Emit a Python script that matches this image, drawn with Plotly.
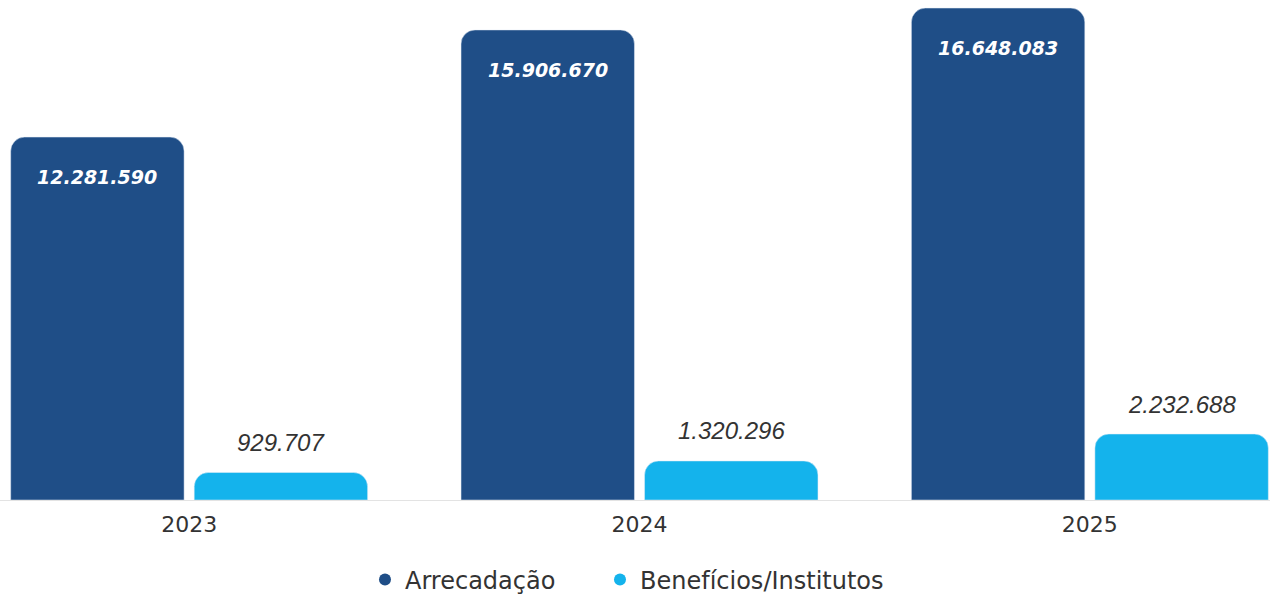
import plotly.graph_objects as go

years = ["2023", "2024", "2025"]
arrecadacao = [12281590, 15906670, 16648083]
beneficios = [929707, 1320296, 2232688]
series_names = ["Arrecadação", "Benefícios/Institutos"]
colors = ["#1F4E87", "#14B3EC"]

fig = go.Figure()
fig.add_trace(go.Bar(x=years, y=arrecadacao, name=series_names[0], marker_color=colors[0],
                     showlegend=False, hoverinfo="skip"))
fig.add_trace(go.Bar(x=years, y=beneficios, name=series_names[1], marker_color=colors[1],
                     showlegend=False, hoverinfo="skip"))

# legend with circle markers, one legend box per series
legend_ids = ["legend", "legend2"]
for n, c, lg in zip(series_names, colors, legend_ids):
    fig.add_trace(go.Scatter(x=[None], y=[None], mode="markers", name=n, legend=lg,
                             marker=dict(symbol="circle", size=16, color=c)))

def fmt(v):
    return f"{v:,}".replace(",", ".")

annotations = []
for i, v in enumerate(arrecadacao):
    annotations.append(dict(x=i, y=v, xref="x", yref="y", text=f"<b><i>{fmt(v)}</i></b>",
                            showarrow=False, xshift=-92, yshift=-40,
                            font=dict(family="DejaVu Sans, sans-serif", size=19, color="white")))
for i, v in enumerate(beneficios):
    annotations.append(dict(x=i, y=v, xref="x", yref="y", text=f"<i>{fmt(v)}</i>",
                            showarrow=False, xshift=92, yshift=30,
                            font=dict(family="Liberation Sans, Arial, sans-serif", size=24, color="#333333")))

legend_style = dict(orientation="h", xanchor="left", yref="container", y=0.032, yanchor="middle",
                    font=dict(size=24, color="#333333"), itemsizing="constant",
                    bgcolor="rgba(0,0,0,0)")

fig.update_layout(
    width=1270, height=599,
    margin=dict(l=0, r=0, t=0, b=99, autoexpand=False),
    paper_bgcolor="white", plot_bgcolor="white",
    barmode="group", bargap=0.185, bargroupgap=0.055,
    barcornerradius=14,
    separators=",.",
    annotations=annotations,
    font=dict(family="DejaVu Sans, sans-serif", color="#333333"),
    legend=dict(x=365 / 1270, **legend_style),
    legend2=dict(x=600 / 1270, **legend_style),
    xaxis=dict(type="category", range=[-0.42, 2.40], showgrid=False, zeroline=False,
               showline=True, linecolor="#E3E3E3", linewidth=1,
               tickfont=dict(size=22, color="#333333"), ticks="", ticklabelstandoff=5),
    yaxis=dict(range=[0, 16920000], visible=False, showgrid=False, zeroline=False),
)

fig.write_html("out.html", config={"displayModeBar": False},
               post_script="document.body.style.margin='0';document.body.style.overflow='hidden';")
